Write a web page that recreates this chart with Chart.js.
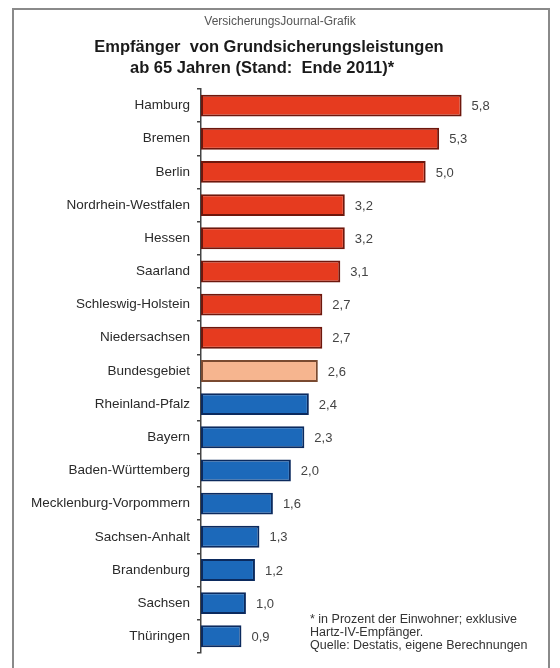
<!DOCTYPE html>
<html>
<head>
<meta charset="utf-8">
<script src="https://cdn.jsdelivr.net/npm/chart.js@4/dist/chart.umd.min.js"></script>
<style>
  html, body { margin: 0; padding: 0; background: #fff; }
  #wrap { position: relative; width: 560px; height: 668px; }
</style>
</head>
<body>
<div id="wrap"><canvas id="myChart" width="560" height="668"></canvas></div>
<script>
// Bundesländer, sortiert wie in der Grafik
const laender = ['Hamburg', 'Bremen', 'Berlin', 'Nordrhein-Westfalen', 'Hessen', 'Saarland',
  'Schleswig-Holstein', 'Niedersachsen', 'Bundesgebiet', 'Rheinland-Pfalz', 'Bayern',
  'Baden-Württemberg', 'Mecklenburg-Vorpommern', 'Sachsen-Anhalt', 'Brandenburg', 'Sachsen', 'Thüringen'];
// Anteil in Prozent
const anteil = [5.8, 5.3, 5.0, 3.2, 3.2, 3.1, 2.7, 2.7, 2.6, 2.4, 2.3, 2.0, 1.6, 1.3, 1.2, 1.0, 0.9];
// Gruppe: ueber / bund / unter dem Bundesdurchschnitt
const gruppe = ['hi', 'hi', 'hi', 'hi', 'hi', 'hi', 'hi', 'hi', 'bund', 'lo', 'lo', 'lo', 'lo', 'lo', 'lo', 'lo', 'lo'];

const xMax = 7.5;
const titelKlein = 'VersicherungsJournal-Grafik';
const titel = ['Empfänger  von Grundsicherungsleistungen', 'ab 65 Jahren (Stand:  Ende 2011)*'];
const fussnote = ['* in Prozent der Einwohner; exklusive', 'Hartz-IV-Empfänger.', 'Quelle: Destatis, eigene Berechnungen'];

const fill = { hi: '#e63b1f', bund: '#f6b58f', lo: '#1c69ba' };
const rand = { hi: '#6e170c', bund: '#7a4a30', lo: '#0b2a5e' };

const FONT = '"Liberation Sans", Arial, sans-serif';

const extras = {
  id: 'extras',
  beforeDraw(chart) {
    const ctx = chart.ctx;
    ctx.save();
    // Rahmen
    ctx.strokeStyle = '#8a8a8a';
    ctx.lineWidth = 2;
    ctx.strokeRect(13, 9, 536, 670);
    // Titel
    ctx.textAlign = 'center';
    ctx.textBaseline = 'middle';
    ctx.fillStyle = '#555';
    ctx.font = '12px ' + FONT;
    ctx.fillText(titelKlein, 280, 22);
    ctx.fillStyle = '#1a1a1a';
    ctx.font = 'bold 16.5px ' + FONT;
    ctx.fillText(titel[0], 269, 47);
    ctx.fillText(titel[1], 262, 68);
    ctx.restore();
  },
  afterDatasetsDraw(chart) {
    const ctx = chart.ctx;
    const meta = chart.getDatasetMeta(0);
    ctx.save();
    ctx.fillStyle = '#444';
    ctx.font = '13px ' + FONT;
    ctx.textBaseline = 'middle';
    ctx.textAlign = 'left';
    meta.data.forEach((bar, i) => {
      ctx.fillText(anteil[i].toFixed(1).replace('.', ','), bar.x + 10, bar.y + 1);
    });
    // Fussnote
    ctx.font = '12.5px ' + FONT;
    ctx.fillStyle = '#333';
    fussnote.forEach((t, i) => ctx.fillText(t, 310, 620 + i * 13));
    ctx.restore();
  }
};

const ctx = document.getElementById('myChart').getContext('2d');
const myChart = new Chart(ctx, {
  type: 'bar',
  data: {
    labels: laender,
    datasets: [{
      data: anteil,
      backgroundColor: gruppe.map(g => fill[g]),
      borderColor: gruppe.map(g => rand[g]),
      borderWidth: 2,
      borderSkipped: false,
      categoryPercentage: 1,
      barPercentage: 0.66
    }]
  },
  options: {
    indexAxis: 'y',
    responsive: false,
    animation: false,
    layout: { padding: { top: 89, bottom: 3, right: 22, left: 0 } },
    plugins: { legend: { display: false }, tooltip: { enabled: false } },
    scales: {
      x: { display: false, min: 0, max: xMax },
      y: {
        afterFit(scale) { scale.width = 201; },
        border: { display: true, color: '#444', width: 1.5 },
        grid: { offset: true, drawOnChartArea: false, drawTicks: true, tickLength: 4, color: '#444', lineWidth: 1.5 },
        ticks: { color: '#2a2a2a', padding: 7, font: { family: FONT, size: 13.5 } }
      }
    }
  },
  plugins: [extras]
});
</script>
</body>
</html>
